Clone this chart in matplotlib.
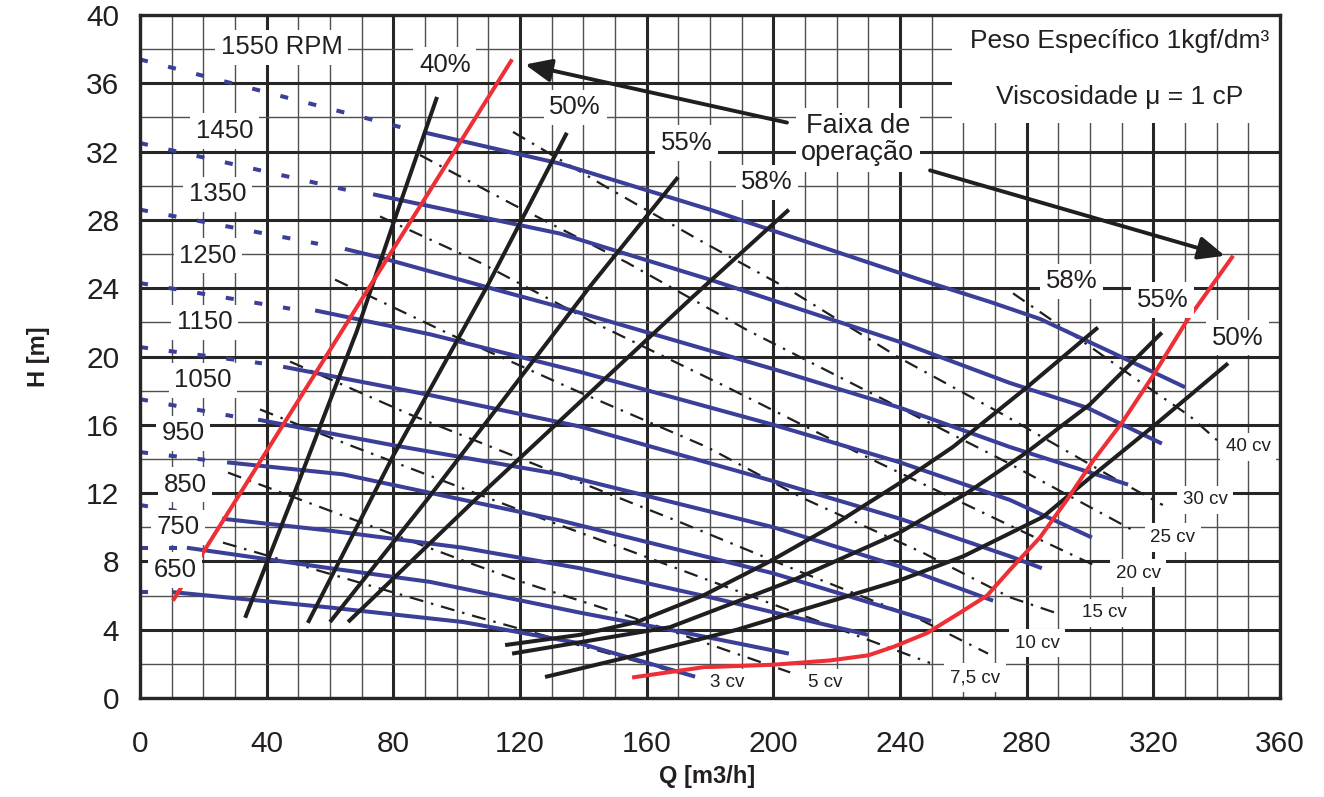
import matplotlib
matplotlib.use("Agg")
import matplotlib.pyplot as plt
from matplotlib.patches import Rectangle

plt.rcParams['font.family'] = ['Liberation Sans', 'DejaVu Sans']

# ---------------- data ----------------
# Head curves H(Q) for each rotation: dashed extension towards shut-off + solid working part
n1550_dash_q = [0, 84]
n1550_dash_h = [37.4, 33.35]
n1550_q = [90.3, 132.6, 180, 246.3, 268.4, 284.2, 307.3, 330]
n1550_h = [33.1, 31.3, 28.6, 24.5, 23.2, 22.2, 20.2, 18.2]

n1450_dash_q = [0, 65.4]
n1450_dash_h = [32.5, 29.75]
n1450_q = [73.6, 132.6, 180, 240, 274.7, 299.1, 322.7]
n1450_h = [29.5, 27.2, 24.5, 20.85, 18.45, 17.0, 14.9]

n1350_dash_q = [0, 56.2]
n1350_dash_h = [28.6, 26.6]
n1350_q = [64.7, 75.8, 112.7, 132.6, 201.2, 240, 274.7, 312]
n1350_h = [26.3, 25.8, 23.9, 22.9, 19.2, 17.0, 14.7, 12.5]

n1250_dash_q = [0, 47.4]
n1250_dash_h = [24.3, 22.8]
n1250_q = [55.3, 91.6, 138.9, 200, 240, 274.7, 300.6]
n1250_h = [22.7, 21.3, 19.1, 16.0, 13.8, 11.6, 9.4]

n1150_dash_q = [0, 38.5]
n1150_dash_h = [20.55, 19.6]
n1150_q = [45.2, 90, 138.9, 200, 240, 274.7, 284.8]
n1150_h = [19.4, 17.8, 15.9, 12.7, 10.5, 8.3, 7.6]

n1050_dash_q = [0, 29.4]
n1050_dash_h = [17.5, 16.5]
n1050_q = [37.3, 80, 132.6, 200, 240, 269.4]
n1050_h = [16.3, 14.8, 13.1, 10.0, 7.7, 5.7]

n950_dash_q = [0, 20.5]
n950_dash_h = [14.4, 13.95]
n950_q = [27.5, 64.1, 132.6, 200, 249.8]
n950_h = [13.8, 13.1, 10.4, 7.3, 4.5]

n850_dash_q = [0, 20]
n850_dash_h = [11.3, 10.7]
n850_q = [25.9, 60, 102, 138.9, 180, 229.9]
n850_h = [10.5, 9.8, 8.8, 7.6, 5.9, 3.7]

n750_dash_q = [0, 13]
n750_dash_h = [8.8, 8.8]
n750_q = [14.8, 60, 91.6, 138.9, 170, 204.9]
n750_h = [8.8, 7.6, 6.8, 5.0, 3.9, 2.6]

n650_dash_q = [0, 8]
n650_dash_h = [6.2, 6.2]
n650_q = [10.4, 60, 102, 138.9, 175.3]
n650_h = [6.2, 5.3, 4.45, 3.2, 1.25]

rpm_labels = ['1550 RPM', '1450', '1350', '1250', '1150', '1050', '950', '850', '750', '650']

# Iso-efficiency lines (left branches)
eff40_q = [33.2, 50, 68.5, 80, 93.8]
eff40_h = [4.7, 12.6, 21.5, 27.8, 35.2]
eff50_q = [53, 80, 109.6, 134.8]
eff50_h = [4.4, 14.2, 24.1, 33.1]
eff55_q = [60, 90.6, 142.1, 169.9]
eff55_h = [4.45, 11.6, 24.1, 30.5]
eff58_q = [65.7, 105.8, 174.6, 204.9]
eff58_h = [4.45, 11.6, 23.5, 28.6]

# Iso-efficiency lines (right branches)
eff58r_q = [115.3, 138.9, 156.9, 177.8, 198.9, 217.9, 240, 256.7, 280.1, 302.5]
eff58r_h = [3.1, 3.7, 4.45, 6.0, 8.0, 10.0, 12.6, 14.7, 18.2, 21.7]
eff55r_q = [117.5, 167.4, 206.2, 240, 261.1, 280.1, 300, 322.7]
eff55r_h = [2.6, 4.15, 6.9, 9.7, 12.0, 14.4, 17.2, 21.4]
eff50r_q = [127.9, 158.8, 188.5, 240, 260, 285.1, 300, 319.9, 343.6]
eff50r_h = [1.23, 2.6, 4.0, 6.9, 8.3, 10.6, 12.9, 15.9, 19.6]

# Limits of the operating range
range_left_q = [10.4, 117.5]
range_left_h = [5.7, 37.4]
range_right_q = [155.4, 177.8, 200, 217.9, 230, 238, 248.5, 259, 267.5, 274.7,
                 284.2, 292.7, 301, 310, 320, 330.6, 345.2]
range_right_h = [1.2, 1.8, 1.95, 2.2, 2.5, 3.0, 3.8, 5.0, 6.0, 7.5,
                 9.4, 11.6, 13.9, 16.1, 18.9, 22.1, 25.9]

# Shaft power lines
p40_q = [275.7, 299.1, 316.7, 331.6, 340.1]
p40_h = [23.7, 20.7, 18.4, 16.5, 15.1]
p30_q = [117.8, 147.5, 176.8, 204.3, 240, 271.6, 307.3, 323]
p30_h = [33.15, 29.9, 26.8, 24.0, 19.9, 16.7, 12.9, 11.3]
p25_q = [88.4, 117.8, 153.8, 191.7, 237.8, 273.8, 314.8]
p25_h = [31.8, 28.9, 25.5, 21.55, 17.2, 13.8, 9.7]
p20_q = [75.8, 107.4, 142.1, 185.4, 227.4, 274.7, 302.2]
p20_h = [28.2, 25.5, 22.1, 18.2, 14.3, 10.1, 7.7]
p15_q = [61.6, 97.9, 138.9, 179, 209.4, 247.3, 274.7, 290.5]
p15_h = [24.5, 21.3, 17.9, 14.7, 11.7, 8.5, 5.9, 4.9]
p10_q = [47.4, 85.3, 132.6, 170.5, 208.4, 246.3, 267.8]
p10_h = [19.7, 16.6, 13.1, 10.3, 7.4, 4.6, 2.6]
p7_5_q = [37.9, 66.3, 128.5, 155.7, 249.5]
p7_5_h = [16.9, 14.8, 10.4, 8.55, 2.05]
p5_q = [27.8, 104.2, 122.2, 155.7, 205.3]
p5_h = [13.2, 7.9, 6.7, 4.7, 1.5]
p3_q = [26.2, 106.4, 146.2, 167.4]
p3_h = [9.1, 4.75, 2.7, 1.6]

power_labels = ['40 cv', '30 cv', '25 cv', '20 cv', '15 cv', '10 cv', '7,5 cv', '5 cv', '3 cv']

# ---------------- drawing ----------------
W, H = 1324, 797
fig = plt.figure(figsize=(W / 100, H / 100), dpi=100)
ax = fig.add_axes([140 / W, 1 - 698 / H, 1140 / W, 683 / H])
ax.set_xlim(0, 360)
ax.set_ylim(0, 40)

ax.set_xticks(range(0, 361, 40))
ax.set_xticks(range(0, 361, 10), minor=True)
ax.set_yticks(range(0, 41, 4))
ax.set_yticks(range(0, 41, 2), minor=True)
ax.tick_params(which='both', length=0)
ax.tick_params(axis='x', pad=23, labelsize=21.5, labelcolor='#231f20')
ax.tick_params(axis='y', pad=15, labelsize=21.5, labelcolor='#231f20')
ax.set_axisbelow(True)
ax.grid(which='minor', color='#505050', lw=1.0)
ax.grid(which='major', color='#262626', lw=2.2)
for sp in ax.spines.values():
    sp.set_linewidth(2.4)
    sp.set_color('#262626')
    sp.set_zorder(10)

ax.set_xlabel('Q [m3/h]', fontsize=17, fontweight='bold', color='#231f20')
ax.xaxis.set_label_coords((707 - 140) / 1140, -(777 - 698) / 683)
ax.xaxis.label.set_va('center')
ax.set_ylabel('H [m]', fontsize=17, fontweight='bold', color='#231f20')
ax.yaxis.set_label_coords(-(140 - 38) / 1140, (698 - 357) / 683)
ax.yaxis.label.set_va('center')

BLUE = '#3b3f98'
RED = '#ee2f36'
BLACK = '#1f1f1f'

dash_curves = [(n1550_dash_q, n1550_dash_h), (n1450_dash_q, n1450_dash_h),
               (n1350_dash_q, n1350_dash_h), (n1250_dash_q, n1250_dash_h),
               (n1150_dash_q, n1150_dash_h), (n1050_dash_q, n1050_dash_h),
               (n950_dash_q, n950_dash_h), (n850_dash_q, n850_dash_h),
               (n750_dash_q, n750_dash_h), (n650_dash_q, n650_dash_h)]
solid_curves = [(n1550_q, n1550_h), (n1450_q, n1450_h), (n1350_q, n1350_h),
                (n1250_q, n1250_h), (n1150_q, n1150_h), (n1050_q, n1050_h),
                (n950_q, n950_h), (n850_q, n850_h), (n750_q, n750_h), (n650_q, n650_h)]
for q, h in dash_curves:
    ax.plot(q, h, color=BLUE, lw=2.9, linestyle=(0, (2.0, 5.2)),
            solid_capstyle='butt', dash_capstyle='butt', zorder=3)
for q, h in solid_curves:
    ax.plot(q, h, color=BLUE, lw=2.9, solid_capstyle='butt', zorder=3)

power_curves = [(p40_q, p40_h), (p30_q, p30_h), (p25_q, p25_h), (p20_q, p20_h),
                (p15_q, p15_h), (p10_q, p10_h), (p7_5_q, p7_5_h), (p5_q, p5_h), (p3_q, p3_h)]
for q, h in power_curves:
    ax.plot(q, h, color=BLACK, lw=1.6, linestyle=(0, (6.3, 3.6, 1.1, 3.6)),
            dash_capstyle='butt', zorder=2.5)

eff_curves = [(eff40_q, eff40_h), (eff50_q, eff50_h), (eff55_q, eff55_h), (eff58_q, eff58_h),
              (eff58r_q, eff58r_h), (eff55r_q, eff55r_h), (eff50r_q, eff50r_h)]
for q, h in eff_curves:
    ax.plot(q, h, color=BLACK, lw=2.9, solid_capstyle='butt', zorder=4)

ax.plot(range_left_q, range_left_h, color=RED, lw=2.9, solid_capstyle='butt', zorder=5)
ax.plot(range_right_q, range_right_h, color=RED, lw=2.9, solid_capstyle='butt', zorder=5)

TXT = '#231f20'
box = dict(boxstyle='square,pad=0.22', fc='white', ec='none')

rpm_pos = [(44.8, 38.1), (26.8, 33.2), (24.6, 29.5), (21.5, 25.9), (20.5, 22.0),
           (19.9, 18.6), (13.6, 15.5), (14.2, 12.5), (12.0, 10.0), (11.1, 7.5)]
for txt, (x, y) in zip(rpm_labels, rpm_pos):
    ax.text(x, y, txt, fontsize=18.5, color=TXT, ha='center', va='center',
            bbox=box, zorder=8)

eff_text = [('40%', 96.3, 37.1), ('50%', 137.4, 34.6), ('55%', 172.7, 32.5),
            ('58%', 198.0, 30.2), ('58%', 294.3, 24.4), ('55%', 323.0, 23.3),
            ('50%', 346.7, 21.1)]
for txt, x, y in eff_text:
    ax.text(x, y, txt, fontsize=18.5, color=TXT, ha='center', va='center',
            bbox=box, zorder=8)

power_pos = [(349.9, 14.7), (336.3, 11.6), (326.2, 9.4), (315.2, 7.3), (304.7, 5.0),
             (283.3, 3.2), (263.7, 1.2), (216.3, 0.9), (185.4, 0.9)]
for txt, (x, y) in zip(power_labels, power_pos):
    ax.text(x, y, txt, fontsize=13.5, color=TXT, ha='center', va='center',
            bbox=dict(boxstyle='square,pad=0.3', fc='white', ec='none'), zorder=8)

# Fluid properties panel
ax.add_patch(Rectangle((256.4, 33.7), 103.6, 6.3, fc='white', ec='none', zorder=7))
ax.text(309.5, 38.5, 'Peso Específico 1kgf/dm³', fontsize=19, color=TXT,
        ha='center', va='center', zorder=8)
ax.text(309.5, 35.2, 'Viscosidade μ = 1 cP', fontsize=19, color=TXT,
        ha='center', va='center', zorder=8)

# Operating range callout
ax.text(226.7, 32.7, 'Faixa de\noperação', fontsize=19.5, color=TXT, ha='center',
        va='center', linespacing=1.05, bbox=dict(boxstyle='square,pad=0.2', fc='white', ec='none'),
        zorder=8)
arrow = dict(arrowstyle='-|>,head_length=0.8,head_width=0.35', lw=2.8, color=BLACK,
             mutation_scale=20, shrinkA=0, shrinkB=0)
ax.annotate('', xy=(121.6, 37.1), xytext=(204.3, 33.7), arrowprops=arrow, zorder=9)
ax.annotate('', xy=(342.6, 25.9), xytext=(249.5, 30.9), arrowprops=arrow, zorder=9)

fig.savefig('out.png', dpi=100)
